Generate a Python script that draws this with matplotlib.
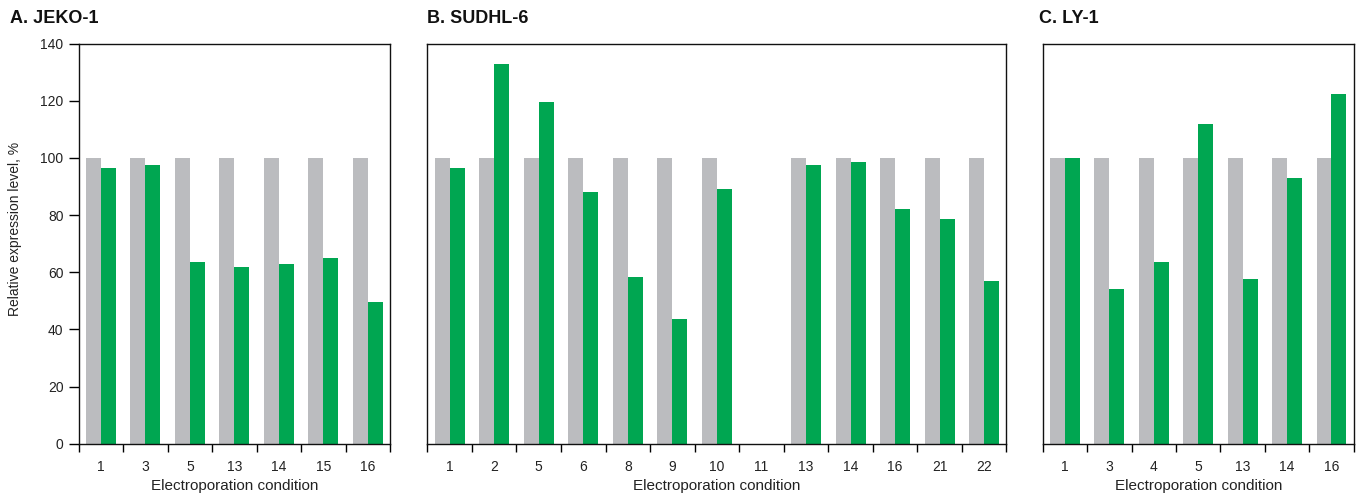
import matplotlib.pyplot as plt
import numpy as np

plt.rcParams['font.family'] = ['Liberation Sans', 'DejaVu Sans']

# data
jeko_conditions = ['1', '3', '5', '13', '14', '15', '16']
jeko_control = [100, 100, 100, 100, 100, 100, 100]
jeko_treated = [96.5, 97.5, 63.5, 62, 63, 65, 49.5]

sudhl_conditions = ['1', '2', '5', '6', '8', '9', '10', '11', '13', '14', '16', '21', '22']
sudhl_control = [100, 100, 100, 100, 100, 100, 100, 0, 100, 100, 100, 100, 100]
sudhl_treated = [96.5, 133, 119.5, 88, 58.5, 43.5, 89, 0, 97.5, 98.5, 82, 78.5, 57]

ly_conditions = ['1', '3', '4', '5', '13', '14', '16']
ly_control = [100, 100, 100, 100, 100, 100, 100]
ly_treated = [100, 54, 63.5, 112, 57.5, 93, 122.5]

yticks = [0, 20, 40, 60, 80, 100, 120, 140]

GRAY = '#bbbcbf'
GREEN = '#00a651'
W, H = 1358, 500


def panel(left, width, title, title_x, conds, ctrl, trt, show_y):
    ax = fig.add_axes([left / W, (H - 443.7) / H, width / W, 400 / H])
    x = np.arange(len(conds))
    bw = 0.337
    ax.bar(x - bw / 2, ctrl, bw, color=GRAY, linewidth=0)
    ax.bar(x + bw / 2, trt, bw, color=GREEN, linewidth=0)
    ax.set_xlim(-0.5, len(conds) - 0.5)
    ax.set_ylim(0, 140)
    ax.set_xticks(x)
    ax.set_xticklabels(conds, fontsize=10, color='#222222')
    ax.set_xticks(np.arange(len(conds) + 1) - 0.5, minor=True)
    ax.tick_params(axis='x', which='major', length=0, pad=12)
    ax.tick_params(axis='x', which='minor', length=6, width=1, direction='out')
    ax.set_xlabel('Electroporation condition', fontsize=11, color='#222222', labelpad=3)
    if show_y:
        ax.set_yticks(yticks)
        ax.tick_params(axis='y', length=7, width=1, pad=4, labelsize=10, labelcolor='#222222')
    else:
        ax.set_yticks([])
    for s in ax.spines.values():
        s.set_linewidth(1)
        s.set_color('#111111')
    fig.text(title_x / W, (H - 23) / H, title, fontsize=13, fontweight='bold',
             color='#111111', va='baseline', ha='left')
    return ax


fig = plt.figure(figsize=(W / 100, H / 100), dpi=100)
panel(78.7, 311.3, 'A. JEKO-1', 10, jeko_conditions, jeko_control, jeko_treated, True)
panel(427.4, 579, 'B. SUDHL-6', 427, sudhl_conditions, sudhl_control, sudhl_treated, False)
panel(1042.7, 311, 'C. LY-1', 1039, ly_conditions, ly_control, ly_treated, False)
fig.text(15 / W, (H - 229) / H, 'Relative expression level, %', rotation=90,
         fontsize=10, color='#222222', ha='center', va='center')

fig.savefig('out.png', dpi=100)
